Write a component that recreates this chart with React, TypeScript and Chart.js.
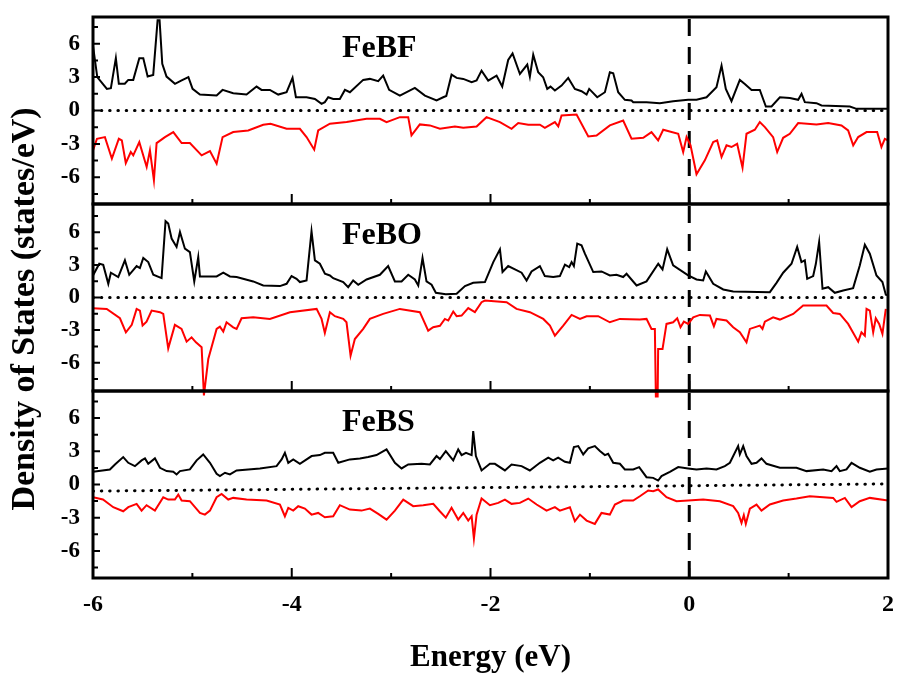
import React, { useEffect, useRef } from 'react';
import { Chart, registerables } from 'chart.js';

Chart.register(...registerables);

const W = 897;
const H = 678;
const SERIF = '"Liberation Serif", "Times New Roman", serif';

// axis ticks
const energyTicks = [-6, -4, -2, 0, 2];
const energyMinorTicks = [-5, -3, -1, 1];
const dosTicks = [-6, -3, 0, 3, 6];
const dosMinorTicks = [-7.5, -4.5, -1.5, 1.5, 4.5, 7.5];
const fermiEnergy = 0;

const panelNames = ['FeBF', 'FeBO', 'FeBS'];
const panelRanges = [8.4, 8.6, 8.45];
const xTitle = 'Energy (eV)';
const yTitle = 'Density of States (states/eV)';

// [energy (eV), DOS (states/eV)]
const febfUp = [[-6.0,5.8],[-5.957,3.0],[-5.86,1.94],[-5.82,2.0],[-5.77,4.7],[-5.74,2.4],[-5.68,2.4],[-5.645,2.75],[-5.595,2.75],[-5.534,4.7],[-5.494,4.7],[-5.45,3.05],[-5.394,3.2],[-5.35,8.1],[-5.33,8.1],[-5.303,4.2],[-5.26,3.05],[-5.175,2.4],[-5.108,2.7],[-5.04,3.0],[-4.998,1.94],[-4.924,1.43],[-4.756,1.34],[-4.696,1.85],[-4.589,1.55],[-4.455,1.43],[-4.354,2.15],[-4.304,1.85],[-4.22,1.85],[-4.136,1.43],[-4.052,1.64],[-3.992,2.93],[-3.958,1.19],[-3.851,1.19],[-3.767,1.04],[-3.7,0.6],[-3.667,0.75],[-3.633,1.19],[-3.583,1.04],[-3.516,1.04],[-3.465,1.85],[-3.415,1.64],[-3.281,2.75],[-3.214,2.84],[-3.13,2.63],[-3.08,3.13],[-3.02,1.85],[-2.912,1.34],[-2.761,2.03],[-2.66,1.34],[-2.543,0.9],[-2.476,1.19],[-2.445,1.3],[-2.392,3.22],[-2.341,2.93],[-2.274,2.84],[-2.19,2.54],[-2.14,2.69],[-2.09,3.58],[-2.023,2.69],[-1.939,3.13],[-1.882,2.15],[-1.822,4.54],[-1.778,5.13],[-1.704,3.28],[-1.63,4.12],[-1.604,3.04],[-1.57,5.01],[-1.52,3.43],[-1.47,2.99],[-1.429,1.94],[-1.396,2.15],[-1.352,1.79],[-1.285,2.24],[-1.218,2.93],[-1.151,1.94],[-1.084,1.73],[-1.033,1.43],[-1.007,1.94],[-0.926,1.19],[-0.849,1.64],[-0.799,3.43],[-0.765,3.34],[-0.715,1.64],[-0.648,0.96],[-0.581,0.9],[-0.564,0.75],[-0.43,0.75],[-0.296,0.66],[-0.162,0.84],[-0.011,0.96],[0.073,0.96],[0.174,1.19],[0.274,2.09],[0.325,4.03],[0.368,1.94],[0.425,0.84],[0.509,2.75],[0.559,2.39],[0.627,1.85],[0.71,1.85],[0.771,0.36],[0.828,0.36],[0.912,1.19],[1.012,1.13],[1.096,0.96],[1.13,1.49],[1.163,0.75],[1.28,0.66],[1.331,0.45],[1.616,0.36],[1.683,0.15],[2.0,0.15]];
const febfDown = [[-6.0,-3.58],[-5.96,-2.54],[-5.88,-2.39],[-5.81,-4.33],[-5.74,-2.54],[-5.71,-2.69],[-5.67,-4.72],[-5.62,-3.73],[-5.595,-4.03],[-5.534,-2.84],[-5.46,-5.07],[-5.427,-3.58],[-5.387,-6.27],[-5.36,-2.93],[-5.276,-2.39],[-5.192,-1.94],[-5.108,-2.93],[-5.025,-2.93],[-4.907,-4.03],[-4.823,-3.64],[-4.756,-4.78],[-4.696,-2.39],[-4.589,-1.94],[-4.438,-1.79],[-4.287,-1.28],[-4.213,-1.19],[-4.052,-1.64],[-3.918,-1.64],[-3.851,-2.39],[-3.774,-3.52],[-3.734,-1.79],[-3.616,-1.19],[-3.448,-1.04],[-3.247,-0.75],[-3.113,-0.75],[-3.046,-1.04],[-2.912,-0.6],[-2.828,-0.6],[-2.795,-2.24],[-2.711,-1.25],[-2.61,-1.34],[-2.509,-1.64],[-2.358,-1.43],[-2.274,-1.55],[-2.14,-1.43],[-2.04,-0.6],[-1.905,-1.04],[-1.788,-1.64],[-1.721,-1.13],[-1.62,-1.28],[-1.503,-1.28],[-1.453,-1.55],[-1.352,-1.04],[-1.318,-1.43],[-1.285,-0.45],[-1.134,-0.36],[-1.016,-2.33],[-0.933,-2.24],[-0.799,-1.34],[-0.665,-0.9],[-0.581,-2.54],[-0.463,-2.45],[-0.38,-1.94],[-0.313,-2.69],[-0.262,-1.73],[-0.111,-2.09],[-0.061,-3.73],[-0.027,-2.39],[0.013,-3.13],[0.073,-5.73],[0.157,-4.48],[0.241,-2.84],[0.281,-2.69],[0.325,-4.18],[0.375,-3.13],[0.425,-3.28],[0.482,-2.99],[0.536,-5.13],[0.576,-2.09],[0.66,-1.73],[0.71,-1.04],[0.761,-1.49],[0.844,-2.39],[0.885,-3.73],[0.945,-2.45],[1.012,-2.09],[1.096,-1.13],[1.28,-1.25],[1.398,-1.13],[1.532,-1.34],[1.599,-1.79],[1.65,-3.13],[1.7,-2.39],[1.784,-1.94],[1.891,-1.94],[1.934,-3.28],[1.968,-2.54],[2.0,-2.69]];

const feboUp = [[-6.0,2.03],[-5.937,3.1],[-5.897,3.0],[-5.846,1.26],[-5.82,2.28],[-5.746,1.88],[-5.679,3.42],[-5.635,2.09],[-5.561,2.89],[-5.528,2.71],[-5.494,3.63],[-5.444,3.26],[-5.393,2.09],[-5.31,1.78],[-5.27,7.02],[-5.243,6.8],[-5.209,5.42],[-5.159,4.65],[-5.125,6.03],[-5.075,4.49],[-5.025,4.18],[-4.981,1.48],[-4.941,3.72],[-4.924,1.94],[-4.756,1.94],[-4.689,2.28],[-4.622,1.94],[-4.555,1.88],[-4.388,1.48],[-4.287,1.11],[-4.119,1.05],[-4.052,1.26],[-4.002,1.97],[-3.952,1.72],[-3.918,1.42],[-3.851,1.57],[-3.801,6.09],[-3.767,3.42],[-3.717,3.1],[-3.666,2.18],[-3.616,2.03],[-3.583,1.78],[-3.482,1.42],[-3.432,0.95],[-3.382,1.57],[-3.331,1.17],[-3.247,1.66],[-3.113,2.09],[-3.03,2.89],[-2.962,1.48],[-2.895,1.48],[-2.828,2.09],[-2.761,1.66],[-2.727,1.11],[-2.684,3.63],[-2.644,1.48],[-2.593,1.17],[-2.55,0.43],[-2.45,0.3],[-2.341,0.34],[-2.257,1.05],[-2.174,1.35],[-2.056,1.42],[-1.972,3.26],[-1.905,4.43],[-1.879,2.34],[-1.822,2.89],[-1.754,2.58],[-1.687,2.28],[-1.637,1.57],[-1.587,2.4],[-1.503,2.89],[-1.453,1.97],[-1.369,1.88],[-1.302,1.97],[-1.251,3.02],[-1.208,2.8],[-1.184,3.26],[-1.161,2.89],[-1.127,4.95],[-1.084,4.8],[-1.05,4.03],[-0.966,2.34],[-0.883,2.4],[-0.799,2.03],[-0.732,2.09],[-0.665,1.88],[-0.631,2.18],[-0.53,1.11],[-0.43,1.48],[-0.312,3.1],[-0.269,2.58],[-0.222,4.43],[-0.162,2.95],[-0.011,2.03],[0.073,1.66],[0.14,1.57],[0.167,2.4],[0.241,1.26],[0.342,0.74],[0.442,0.55],[0.811,0.49],[0.878,1.35],[0.945,2.28],[1.029,3.1],[1.086,4.65],[1.129,3.26],[1.163,3.42],[1.187,1.72],[1.247,1.97],[1.274,3.1],[1.307,5.11],[1.341,0.8],[1.398,0.95],[1.465,0.43],[1.549,0.65],[1.649,0.86],[1.716,2.95],[1.767,4.86],[1.817,4.03],[1.884,2.03],[1.944,1.42],[1.978,0.25],[2.0,0.2]];
const feboDown = [[-6.0,-0.98],[-5.862,-1.05],[-5.729,-1.91],[-5.669,-3.2],[-5.61,-2.52],[-5.561,-1.05],[-5.528,-1.2],[-5.501,-2.58],[-5.461,-2.22],[-5.41,-1.2],[-5.326,-1.35],[-5.293,-1.51],[-5.243,-4.68],[-5.176,-2.52],[-5.109,-2.89],[-5.058,-4.06],[-5.008,-3.66],[-4.964,-4.12],[-4.907,-4.58],[-4.884,-9.0],[-4.84,-5.66],[-4.756,-2.89],[-4.723,-2.68],[-4.689,-3.14],[-4.656,-2.28],[-4.589,-2.74],[-4.555,-2.89],[-4.505,-1.91],[-4.388,-1.82],[-4.22,-1.97],[-4.018,-1.35],[-3.75,-1.05],[-3.7,-1.97],[-3.667,-3.26],[-3.616,-1.35],[-3.566,-1.72],[-3.482,-1.97],[-3.449,-2.28],[-3.408,-5.35],[-3.365,-3.82],[-3.281,-2.89],[-3.214,-1.97],[-3.08,-1.51],[-2.912,-1.05],[-2.711,-1.35],[-2.627,-3.05],[-2.577,-2.74],[-2.509,-2.6],[-2.459,-1.97],[-2.425,-2.12],[-2.375,-1.29],[-2.341,-1.72],[-2.291,-1.66],[-2.224,-0.98],[-2.157,-1.35],[-2.09,-0.43],[-2.056,-0.28],[-1.838,-0.43],[-1.738,-1.05],[-1.603,-1.35],[-1.469,-1.97],[-1.402,-2.58],[-1.352,-3.51],[-1.268,-2.58],[-1.184,-1.6],[-1.1,-1.97],[-1.033,-1.72],[-0.916,-1.72],[-0.799,-2.28],[-0.698,-1.97],[-0.497,-2.03],[-0.43,-1.97],[-0.38,-2.89],[-0.346,-2.89],[-0.336,-9.1],[-0.318,-9.1],[-0.313,-4.74],[-0.269,-4.74],[-0.229,-2.43],[-0.162,-2.28],[-0.121,-1.91],[-0.088,-2.74],[-0.054,-2.22],[-0.011,-2.43],[0.04,-1.82],[0.107,-1.6],[0.208,-1.66],[0.248,-2.65],[0.274,-1.97],[0.375,-2.12],[0.442,-2.74],[0.509,-3.2],[0.576,-4.12],[0.61,-2.89],[0.71,-2.58],[0.737,-2.89],[0.761,-2.22],[0.844,-1.82],[0.912,-2.03],[1.046,-1.51],[1.146,-0.74],[1.381,-0.74],[1.448,-1.42],[1.515,-1.51],[1.599,-2.43],[1.7,-4.06],[1.733,-3.2],[1.767,-3.51],[1.784,-1.05],[1.817,-1.2],[1.851,-3.2],[1.877,-1.91],[1.911,-2.43],[1.944,-3.35],[1.978,-1.05]];

const febsUp = [[-6.0,1.15],[-5.83,1.36],[-5.779,1.81],[-5.696,2.48],[-5.645,1.96],[-5.578,1.66],[-5.511,2.18],[-5.477,2.36],[-5.444,1.87],[-5.377,2.36],[-5.326,1.51],[-5.259,1.21],[-5.192,1.15],[-5.159,0.91],[-5.125,1.21],[-5.025,1.36],[-4.957,2.18],[-4.891,2.72],[-4.823,1.96],[-4.756,0.97],[-4.723,0.76],[-4.672,1.06],[-4.622,0.91],[-4.555,1.27],[-4.32,1.45],[-4.153,1.66],[-4.102,2.27],[-4.069,2.87],[-4.035,1.96],[-3.985,2.27],[-3.918,1.87],[-3.8,2.57],[-3.717,2.66],[-3.667,2.87],[-3.583,2.87],[-3.532,1.96],[-3.415,2.27],[-3.314,2.36],[-3.231,2.48],[-3.147,2.66],[-3.046,3.17],[-2.962,1.96],[-2.895,1.45],[-2.828,1.81],[-2.694,1.87],[-2.61,1.81],[-2.543,2.57],[-2.509,2.3],[-2.45,3.02],[-2.375,2.18],[-2.325,3.17],[-2.291,2.66],[-2.247,2.87],[-2.19,2.66],[-2.174,4.83],[-2.147,2.57],[-2.09,1.27],[-2.006,1.87],[-1.956,1.87],[-1.855,1.27],[-1.788,1.81],[-1.687,1.66],[-1.604,1.27],[-1.503,1.96],[-1.419,2.42],[-1.369,2.18],[-1.319,2.42],[-1.251,2.05],[-1.201,1.96],[-1.161,3.38],[-1.117,3.47],[-1.067,2.72],[-1.017,3.26],[-0.95,3.47],[-0.899,3.02],[-0.849,2.66],[-0.816,2.78],[-0.765,1.96],[-0.698,1.87],[-0.648,1.36],[-0.564,1.36],[-0.504,1.57],[-0.43,0.66],[-0.363,0.6],[-0.313,0.36],[-0.279,0.76],[-0.195,1.15],[-0.111,1.57],[-0.011,1.45],[0.073,1.36],[0.174,1.45],[0.274,1.36],[0.358,1.66],[0.409,1.96],[0.492,3.47],[0.509,2.72],[0.543,3.47],[0.576,2.57],[0.627,1.87],[0.677,1.96],[0.727,2.36],[0.777,1.87],[0.912,1.51],[1.079,1.51],[1.18,1.21],[1.348,1.36],[1.432,1.21],[1.482,1.66],[1.515,1.21],[1.582,1.36],[1.633,1.96],[1.716,1.51],[1.817,1.15],[1.884,1.36],[2.0,1.45]];
const febsDown = [[-6.0,-1.15],[-5.9,-1.36],[-5.796,-2.05],[-5.696,-2.42],[-5.645,-2.05],[-5.561,-1.75],[-5.511,-2.36],[-5.461,-1.87],[-5.377,-2.36],[-5.293,-1.15],[-5.243,-1.36],[-5.176,-1.36],[-5.142,-0.91],[-5.108,-1.45],[-5.025,-1.51],[-4.924,-2.57],[-4.874,-2.72],[-4.823,-2.36],[-4.756,-1.15],[-4.706,-0.85],[-4.639,-1.36],[-4.589,-1.21],[-4.455,-1.36],[-4.253,-1.45],[-4.119,-1.81],[-4.069,-2.87],[-4.035,-2.11],[-3.985,-2.36],[-3.935,-1.96],[-3.868,-2.18],[-3.801,-2.72],[-3.734,-2.57],[-3.667,-2.96],[-3.583,-2.87],[-3.516,-1.87],[-3.415,-2.27],[-3.298,-2.36],[-3.214,-2.18],[-3.13,-2.66],[-3.046,-3.17],[-2.962,-2.36],[-2.878,-1.36],[-2.778,-1.96],[-2.677,-1.87],[-2.576,-1.75],[-2.51,-2.42],[-2.45,-3.0],[-2.392,-2.11],[-2.325,-3.17],[-2.274,-2.57],[-2.224,-3.26],[-2.19,-2.87],[-2.167,-4.89],[-2.14,-2.72],[-2.09,-1.27],[-2.006,-1.87],[-1.922,-1.66],[-1.855,-1.36],[-1.788,-1.75],[-1.704,-1.66],[-1.62,-1.27],[-1.536,-1.81],[-1.436,-2.36],[-1.352,-2.05],[-1.302,-2.36],[-1.201,-2.05],[-1.151,-3.32],[-1.1,-2.72],[-1.033,-3.26],[-0.95,-3.56],[-0.883,-2.57],[-0.799,-2.72],[-0.748,-1.81],[-0.665,-1.45],[-0.564,-1.45],[-0.497,-1.06],[-0.413,-0.54],[-0.363,-0.6],[-0.313,-0.45],[-0.229,-1.15],[-0.128,-1.51],[-0.011,-1.45],[0.14,-1.36],[0.308,-1.51],[0.442,-1.96],[0.492,-2.57],[0.526,-3.47],[0.549,-2.78],[0.569,-3.56],[0.61,-2.18],[0.677,-1.81],[0.727,-2.36],[0.811,-1.81],[0.945,-1.45],[1.079,-1.27],[1.213,-1.06],[1.448,-1.21],[1.482,-1.57],[1.566,-1.21],[1.633,-2.05],[1.716,-1.51],[1.817,-1.21],[2.0,-1.45]];

// dotted reference (zero) lines
const febfZero = [[-6, 0], [2, 0]];
const feboZero = [[-6, 0], [2, 0]];
const febsZero = [[-6, -0.6], [2, 0.05]];

const upSeries = [febfUp, feboUp, febsUp];
const downSeries = [febfDown, feboDown, febsDown];
const zeroSeries = [febfZero, feboZero, febsZero];

// layout (pixels)
const PLOT_LEFT = 93;
const PLOT_RIGHT = 888;
const panelTops = [17, 204, 391];
const panelBottoms = [204, 391, 578];

const toPts = (arr: number[][]) => arr.map(([x, y]) => ({ x, y }));

const zeroPad = (s: any) => {
  s.paddingTop = 0;
  s.paddingBottom = 0;
  s.paddingLeft = 0;
  s.paddingRight = 0;
};

function framePlugin(i: number) {
  return {
    id: 'frame' + i,
    afterDatasetsDraw(chart: any) {
      const { ctx, chartArea: a, scales } = chart;
      const xs = scales.x;
      const ys = scales.y;
      ctx.save();
      ctx.strokeStyle = '#000';
      ctx.lineWidth = 3;
      ctx.strokeRect(a.left, a.top, a.right - a.left, a.bottom - a.top);
      ctx.lineWidth = 2;
      ctx.beginPath();
      for (const v of energyTicks) {
        const px = xs.getPixelForValue(v);
        ctx.moveTo(px, a.bottom);
        ctx.lineTo(px, a.bottom - 10);
      }
      for (const v of energyMinorTicks) {
        const px = xs.getPixelForValue(v);
        ctx.moveTo(px, a.bottom);
        ctx.lineTo(px, a.bottom - 5);
      }
      for (const v of dosTicks) {
        const py = ys.getPixelForValue(v);
        ctx.moveTo(a.left, py);
        ctx.lineTo(a.left + 7, py);
      }
      for (const v of dosMinorTicks) {
        const py = ys.getPixelForValue(v);
        ctx.moveTo(a.left, py);
        ctx.lineTo(a.left + 5, py);
      }
      ctx.stroke();

      ctx.fillStyle = '#000';
      ctx.font = `bold 32px ${SERIF}`;
      ctx.textAlign = 'left';
      ctx.textBaseline = 'alphabetic';
      ctx.fillText(panelNames[i], 342, a.top + 40);

      if (i === 1) {
        ctx.save();
        ctx.translate(34, 309);
        ctx.rotate(-Math.PI / 2);
        ctx.font = `bold 34px ${SERIF}`;
        ctx.textAlign = 'center';
        ctx.fillText(yTitle, 0, 0);
        ctx.restore();
      }
      if (i === 2) {
        ctx.font = `bold 31px ${SERIF}`;
        ctx.textAlign = 'center';
        ctx.fillText(xTitle, (a.left + a.right) / 2, 666);
      }
      ctx.restore();
    },
  };
}

function makeConfig(i: number): any {
  const range = panelRanges[i];
  const isBottom = i === 2;
  return {
    type: 'line',
    data: {
      datasets: [
        {
          data: toPts(upSeries[i]),
          borderColor: '#000000',
          borderWidth: 2,
        },
        {
          data: toPts(downSeries[i]),
          borderColor: '#ff0000',
          borderWidth: 2,
          clip: i === 1 ? { left: 2, top: 2, right: 2, bottom: 10 } : undefined,
        },
        {
          data: toPts(zeroSeries[i]),
          borderColor: '#000000',
          borderWidth: 3,
          borderDash: [0.5, 7.8],
          borderCapStyle: 'round',
        },
        {
          data: [
            { x: fermiEnergy, y: -range },
            { x: fermiEnergy, y: range },
          ],
          borderColor: '#000000',
          borderWidth: 3,
          borderDash: [17, 11],
        },
      ],
    },
    options: {
      responsive: false,
      animation: false,
      devicePixelRatio: 1,
      events: [],
      layout: {
        padding: {
          left: 0,
          right: W - PLOT_RIGHT,
          top: panelTops[i],
          bottom: isBottom ? 0 : H - panelBottoms[i],
        },
      },
      elements: { point: { radius: 0 }, line: { tension: 0 } },
      plugins: {
        legend: { display: false },
        tooltip: { enabled: false },
        title: { display: false },
      },
      scales: {
        x: {
          type: 'linear',
          min: -6,
          max: 2,
          display: isBottom,
          afterFit: (s: any) => {
            if (isBottom) s.height = H - panelBottoms[2];
            zeroPad(s);
          },
          afterBuildTicks: (s: any) => {
            s.ticks = energyTicks.map((v) => ({ value: v }));
          },
          grid: { display: false, drawTicks: false },
          border: { display: false },
          ticks: {
            color: '#000',
            font: { family: SERIF, size: 24, weight: 'bold' },
            padding: 12,
            maxRotation: 0,
            autoSkip: false,
            callback: (v: number) => String(v),
          },
        },
        y: {
          type: 'linear',
          min: -range,
          max: range,
          afterFit: (s: any) => {
            s.width = PLOT_LEFT;
            zeroPad(s);
          },
          afterBuildTicks: (s: any) => {
            s.ticks = dosTicks.map((v) => ({ value: v }));
          },
          grid: { display: false, drawTicks: false },
          border: { display: false },
          ticks: {
            color: '#000',
            font: { family: SERIF, size: 23, weight: 'bold' },
            padding: 13,
            autoSkip: false,
            callback: (v: number) => String(v),
          },
        },
      },
    },
    plugins: [framePlugin(i)],
  };
}

export default function App() {
  const r0 = useRef<HTMLCanvasElement>(null);
  const r1 = useRef<HTMLCanvasElement>(null);
  const r2 = useRef<HTMLCanvasElement>(null);

  useEffect(() => {
    const canvases = [r0.current, r1.current, r2.current];
    const charts = canvases.map((c, i) => new Chart(c as HTMLCanvasElement, makeConfig(i)));
    return () => charts.forEach((ch) => ch.destroy());
  }, []);

  return (
    <div style={{ position: 'absolute', left: 0, top: 0, width: W, height: H, background: '#fff' }}>
      {[r0, r1, r2].map((r, i) => (
        <canvas
          key={i}
          ref={r}
          width={W}
          height={H}
          style={{ position: 'absolute', left: 0, top: 0 }}
        />
      ))}
    </div>
  );
}
